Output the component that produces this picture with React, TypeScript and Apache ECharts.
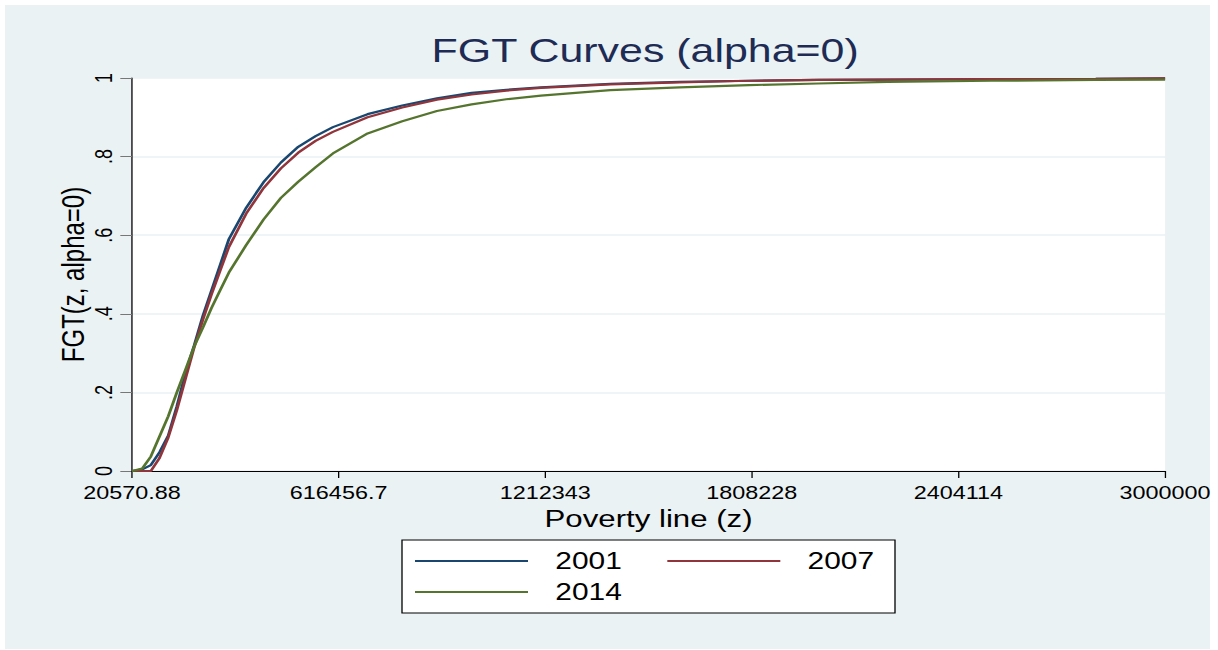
import React, { useEffect, useRef } from "react";
import * as echarts from "echarts";

// ---- data ----
const povertyLine = [
  20570.88, 50000, 75000, 100000, 125000, 150000, 175000, 200000, 225000, 250000,
  275000, 300000, 350000, 400000, 450000, 500000, 550000, 600000, 700000, 800000,
  900000, 1000000, 1100000, 1200000, 1400000, 1600000, 1800000, 2000000, 2200000,
  2500000, 2800000, 3000000,
];
const fgt2001 = [
  0, 0.004, 0.015, 0.048, 0.09, 0.165, 0.25, 0.32, 0.395, 0.46,
  0.525, 0.59, 0.67, 0.735, 0.785, 0.825, 0.852, 0.875, 0.908, 0.93,
  0.948, 0.962, 0.97, 0.976, 0.985, 0.99, 0.993, 0.995, 0.996, 0.997, 0.998, 0.999,
];
const fgt2007 = [
  0, 0, 0, 0.033, 0.085, 0.155, 0.235, 0.315, 0.385, 0.45,
  0.51, 0.57, 0.655, 0.72, 0.77, 0.81, 0.84, 0.863, 0.9, 0.925,
  0.945, 0.958, 0.968, 0.975, 0.984, 0.989, 0.993, 0.995, 0.996, 0.997, 0.998, 0.999,
];
const fgt2014 = [
  0, 0.006, 0.037, 0.088, 0.139, 0.2, 0.258, 0.317, 0.365, 0.415,
  0.46, 0.505, 0.575, 0.64, 0.695, 0.736, 0.773, 0.808, 0.859, 0.89,
  0.916, 0.933, 0.946, 0.955, 0.969, 0.976, 0.982, 0.986, 0.99, 0.993, 0.995, 0.996,
];
const seriesNames = ["2001", "2007", "2014"];
const xTickValues = [20570.88, 616456.704, 1212342.528, 1808228.352, 2404114.176, 3000000];
const xTickLabels = ["20570.88", "616456.7", "1212343", "1808228", "2404114", "3000000"];
const yTickLabels = ["0", ".2", ".4", ".6", ".8", "1"];

// ---- layout (the reference is horizontally stretched) ----
const S = 1.3;
const CW = 1218 / S;
const FONT = "'Liberation Sans', Arial, Helvetica, sans-serif";
const colors = ["#1a476f", "#90353b", "#55752f"];

function pairs(ys: number[]) {
  return povertyLine.map((x, i) => [x, ys[i]]);
}

function legendBase() {
  return {
    left: 415 / S,
    padding: 0,
    orient: "horizontal",
    icon: "rect",
    itemWidth: 113 / S,
    itemHeight: 2,
    itemGap: 35,
    selectedMode: false,
    textStyle: { fontSize: 23, color: "#000", fontFamily: FONT, lineHeight: 28, padding: [0, 0, 0, 16] },
  };
}

function buildOption() {
  const data = [fgt2001, fgt2007, fgt2014];
  return {
    animation: false,
    backgroundColor: "#ffffff",
    textStyle: { fontFamily: FONT },
    title: {
      text: "FGT Curves (alpha=0)",
      left: 332,
      top: 34,
      padding: 0,
      textStyle: { fontSize: 33, fontWeight: "normal", color: "#1e2c55", fontFamily: FONT },
    },
    graphic: {
      elements: [
        {
          type: "rect",
          z: -100,
          shape: { x: 5 / S, y: 5, width: 1205 / S, height: 644 },
          style: { fill: "#eaf2f3" },
          silent: true,
        },
        {
          type: "rect",
          z: 3,
          shape: { x: 402 / S, y: 540, width: 493 / S, height: 73 },
          style: { fill: "#ffffff", stroke: "#000000", lineWidth: 1 },
          silent: true,
        },
      ],
    },
    legend: [
      { ...legendBase(), data: [seriesNames[0], seriesNames[1]], top: 547 },
      { ...legendBase(), data: [seriesNames[2]], top: 578 },
    ],
    grid: {
      left: 132 / S,
      right: CW - 1165 / S,
      top: 78,
      bottom: 650 - 471,
      show: true,
      backgroundColor: "#ffffff",
      borderWidth: 0,
    },
    xAxis: {
      type: "value",
      min: 20570.88,
      max: 3000000,
      name: "Poverty line (z)",
      nameLocation: "middle",
      nameGap: 32,
      nameTextStyle: { fontSize: 24, color: "#000", fontFamily: FONT },
      axisLine: { show: true, lineStyle: { color: "#000", width: 1 } },
      axisTick: { show: true, customValues: xTickValues, length: 7, lineStyle: { color: "#000", width: 1 } },
      axisLabel: {
        customValues: xTickValues,
        fontSize: 18,
        color: "#000",
        margin: 13,
        fontFamily: FONT,
        formatter: (v: number) => {
          const i = xTickValues.findIndex((t) => Math.abs(t - v) < 1);
          return i >= 0 ? xTickLabels[i] : "";
        },
      },
      splitLine: { show: false },
    },
    yAxis: {
      type: "value",
      min: 0,
      max: 1,
      interval: 0.2,
      name: "FGT(z, alpha=0)",
      nameLocation: "middle",
      nameGap: 33,
      nameMoveOverlap: false,
      nameTextStyle: { fontSize: 24, color: "#000", fontFamily: FONT },
      axisLine: { show: true, lineStyle: { color: "#000", width: 1 } },
      axisTick: { show: true, length: 9, lineStyle: { color: "#777777", width: 1 } },
      axisLabel: {
        rotate: 90,
        fontSize: 18,
        color: "#000",
        margin: 13,
        fontFamily: FONT,
        formatter: (v: number) => yTickLabels[Math.round(v * 5)] ?? "",
      },
      splitLine: { show: true, lineStyle: { color: "#eaf2f3", width: 1.5 } },
    },
    series: data.map((ys, i) => ({
      name: seriesNames[i],
      type: "line",
      symbol: "none",
      data: pairs(ys),
      color: colors[i],
      lineStyle: { color: colors[i], width: 2.2 },
      itemStyle: { color: colors[i] },
      z: 2 + i,
    })),
  };
}

export default function App() {
  const ref = useRef<HTMLDivElement>(null);
  useEffect(() => {
    if (!ref.current) return;
    const chart = echarts.init(ref.current, null, { renderer: "svg" });
    chart.setOption(buildOption() as any);
    return () => chart.dispose();
  }, []);
  return (
    <div
      style={{
        position: "fixed",
        left: 0,
        top: 0,
        width: 1218,
        height: 650,
        background: "#ffffff",
        overflow: "hidden",
      }}
    >
      <div
        ref={ref}
        style={{ width: CW, height: 650, transform: `scaleX(${S})`, transformOrigin: "0 0" }}
      />
    </div>
  );
}
